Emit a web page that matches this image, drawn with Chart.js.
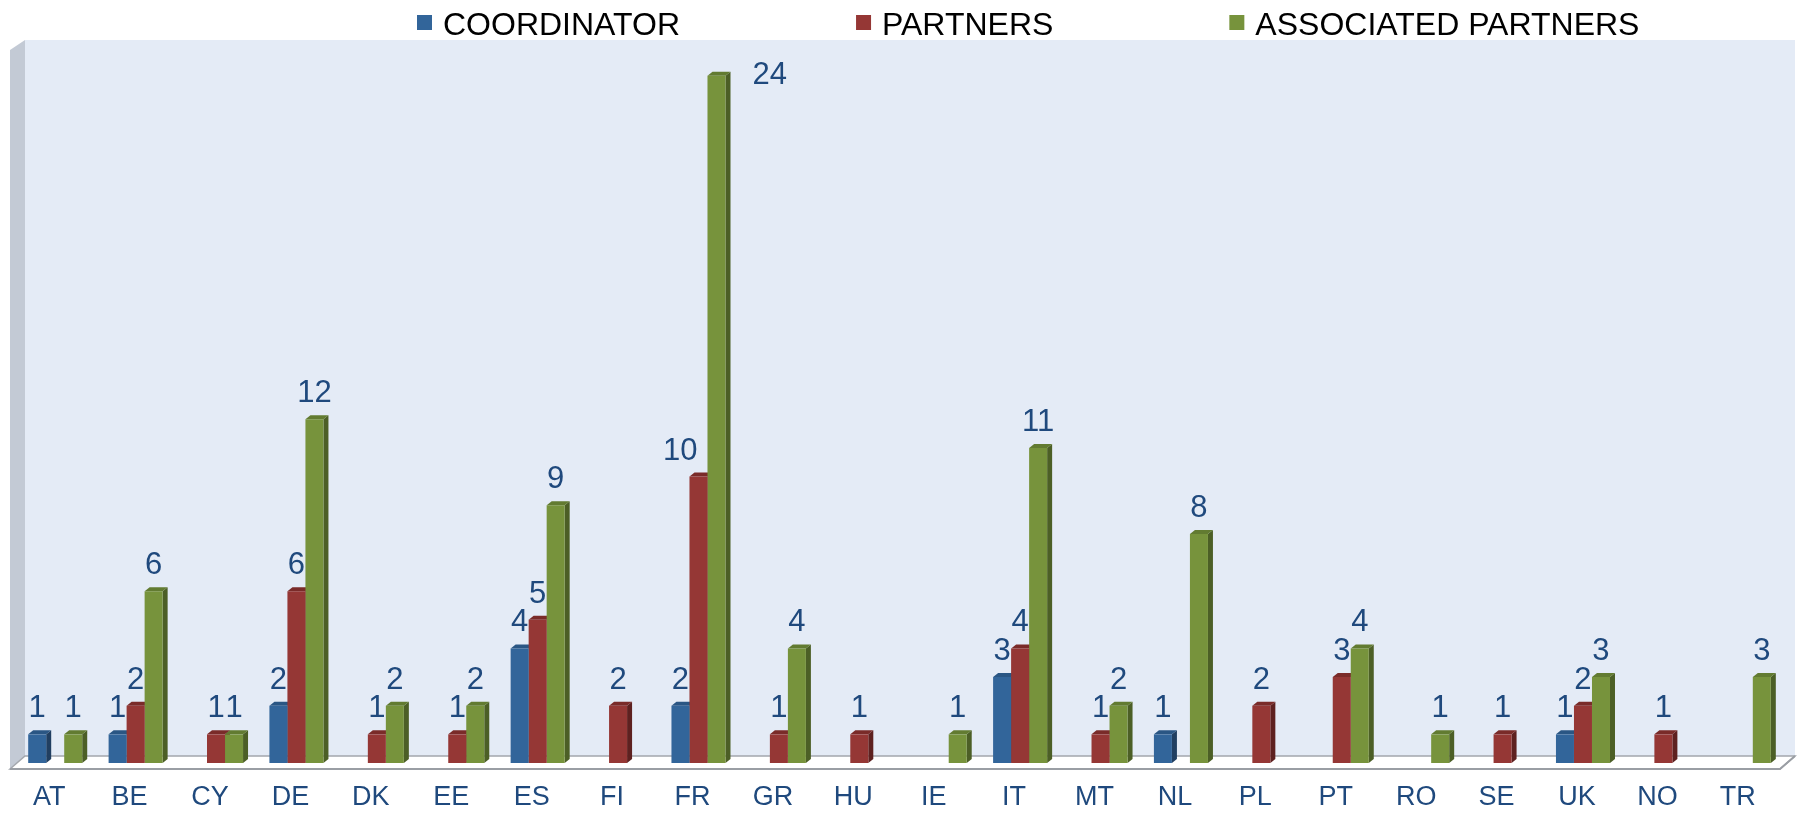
<!DOCTYPE html>
<html><head><meta charset="utf-8">
<script src="https://cdn.jsdelivr.net/npm/chart.js@4.4.1/dist/chart.umd.min.js"></script>
<style>html,body{margin:0;padding:0;background:#fff}#wrap{width:1806px;height:814px;position:relative}</style>
</head><body><div id="wrap"><canvas id="c"></canvas></div>
<script>
const categories = ['AT','BE','CY','DE','DK','EE','ES','FI','FR','GR','HU','IE','IT','MT','NL','PL','PT','RO','SE','UK','NO','TR'];
const coordinator = [1,1,0,2,0,0,4,0,2,0,0,0,3,0,1,0,0,0,0,1,0,0];
const partners    = [0,2,1,6,1,1,5,2,10,1,1,0,4,1,0,2,3,0,1,2,1,0];
const associated  = [1,6,1,12,2,2,9,0,24,4,0,1,11,2,8,0,4,1,0,3,0,3];
const seriesNames = ['COORDINATOR','PARTNERS','ASSOCIATED PARTNERS'];

const frontColors = ['#32659A','#953735','#77933C'];
const sideColors  = ['#213F61','#5E2120','#4C5F26'];
const topColors   = ['#2A5684','#7A2B29','#627B31'];
const FONT = '"Liberation Sans", Arial, sans-serif';
const DX = 5, DY = 4;

function poly(ctx, pts){ctx.beginPath();ctx.moveTo(pts[0],pts[1]);for(let k=2;k<pts.length;k+=2)ctx.lineTo(pts[k],pts[k+1]);ctx.closePath();ctx.fill();}

const scene = {
  id:'scene',
  beforeDatasetsDraw(chart){
    const {ctx, chartArea:a} = chart;
    const bl=a.left+10, fl=a.left-5, br=a.right+11, fr=a.right-4;
    const top=a.top-7, backY=a.bottom-7, frontY=a.bottom+6;
    ctx.save();
    ctx.fillStyle='#E4EBF6';
    ctx.fillRect(bl, top, br-bl, backY-top);
    ctx.fillStyle='#C3CAD5';
    poly(ctx,[fl,top+10, bl,top, bl,backY, fl,frontY]);
    ctx.fillStyle='#FFFFFF';
    ctx.beginPath();ctx.moveTo(fl,frontY);ctx.lineTo(bl,backY);ctx.lineTo(br,backY);ctx.lineTo(fr,frontY);ctx.closePath();ctx.fill();
    ctx.strokeStyle='#A3A7AD';ctx.lineWidth=1.5;ctx.stroke();
    ctx.strokeStyle='#9A9EA4';ctx.lineWidth=2;
    ctx.beginPath();ctx.moveTo(fl,frontY);ctx.lineTo(fr,frontY);ctx.lineTo(br,backY);ctx.stroke();
    chart.data.datasets.forEach((ds,di)=>{
      const meta=chart.getDatasetMeta(di);
      meta.data.forEach((el,i)=>{
        if(!ds.data[i]) return;
        const l=el.x-el.width/2, r=el.x+el.width/2, t=el.y, b=el.base;
        ctx.fillStyle=sideColors[di];
        poly(ctx,[r,t, r+DX,t-DY, r+DX,b-DY, r,b]);
        ctx.fillStyle=topColors[di];
        poly(ctx,[l,t, l+DX,t-DY, r+DX,t-DY, r,t]);
      });
    });
    ctx.restore();
  },
  afterDatasetsDraw(chart){
    const {ctx, chartArea:a} = chart;
    ctx.save();
    ctx.font='31px '+FONT;
    ctx.fillStyle='#1F497D';
    ctx.textBaseline='alphabetic';
    const n=chart.data.datasets.length;
    chart.data.datasets.forEach((ds,di)=>{
      const meta=chart.getDatasetMeta(di);
      meta.data.forEach((el,i)=>{
        const v=ds.data[i];
        if(!v) return;
        const txt=String(v);
        const w=ctx.measureText(txt).width;
        let cx=el.x, by=el.y-17;
        if(by-22 < a.top){
          ctx.textAlign='left';
          ctx.textBaseline='middle';
          ctx.fillText(txt, el.x+el.width/2+27, el.y);
          ctx.textBaseline='alphabetic';
          return;
        }
        if(di<n-1){
          const nds=chart.data.datasets[di+1];
          const nel=chart.getDatasetMeta(di+1).data[i];
          if(nds.data[i]>v){
            const nl=nel.x-nel.width/2;
            if(cx+w/2>nl && nel.y<by){ cx=nl-10-w/2; }
          }
        }
        ctx.textAlign='center';
        ctx.fillText(txt,cx,by);
      });
    });
    ctx.restore();
  },
  afterDraw(chart){
    const ctx=chart.ctx;
    ctx.save();
    ctx.textBaseline='alphabetic';
    ctx.textAlign='left';
    ctx.font='32px '+FONT;
    let x=417;
    chart.data.datasets.forEach((ds,di)=>{
      ctx.fillStyle=frontColors[di];
      ctx.fillRect(x,15,15,15);
      const tx=x+26;
      ctx.fillStyle='#000000';
      ctx.fillText(ds.label,tx,35);
      x=tx+ctx.measureText(ds.label).width+176;
    });
    ctx.restore();
  }
};

new Chart(document.getElementById('c'),{
  type:'bar',
  data:{
    labels:categories,
    datasets:[
      {label:seriesNames[0],data:coordinator,backgroundColor:frontColors[0]},
      {label:seriesNames[1],data:partners,backgroundColor:frontColors[1]},
      {label:seriesNames[2],data:associated,backgroundColor:frontColors[2]}
    ]
  },
  options:{
    responsive:true,maintainAspectRatio:false,animation:false,
    layout:{padding:{top:47,left:15,right:22,bottom:0}},
    datasets:{bar:{categoryPercentage:0.672,barPercentage:1,borderWidth:0}},
    plugins:{legend:{display:false},tooltip:{enabled:false}},
    scales:{
      x:{grid:{display:false,drawTicks:false},border:{display:false},
         afterFit:(s)=>{s.height=51;},
         ticks:{color:'#1F497D',font:{family:FONT,size:27},padding:18,labelOffset:-6,maxRotation:0,autoSkip:false}},
      y:{display:false,min:0,max:25}
    }
  },
  plugins:[scene]
});
</script></body></html>
